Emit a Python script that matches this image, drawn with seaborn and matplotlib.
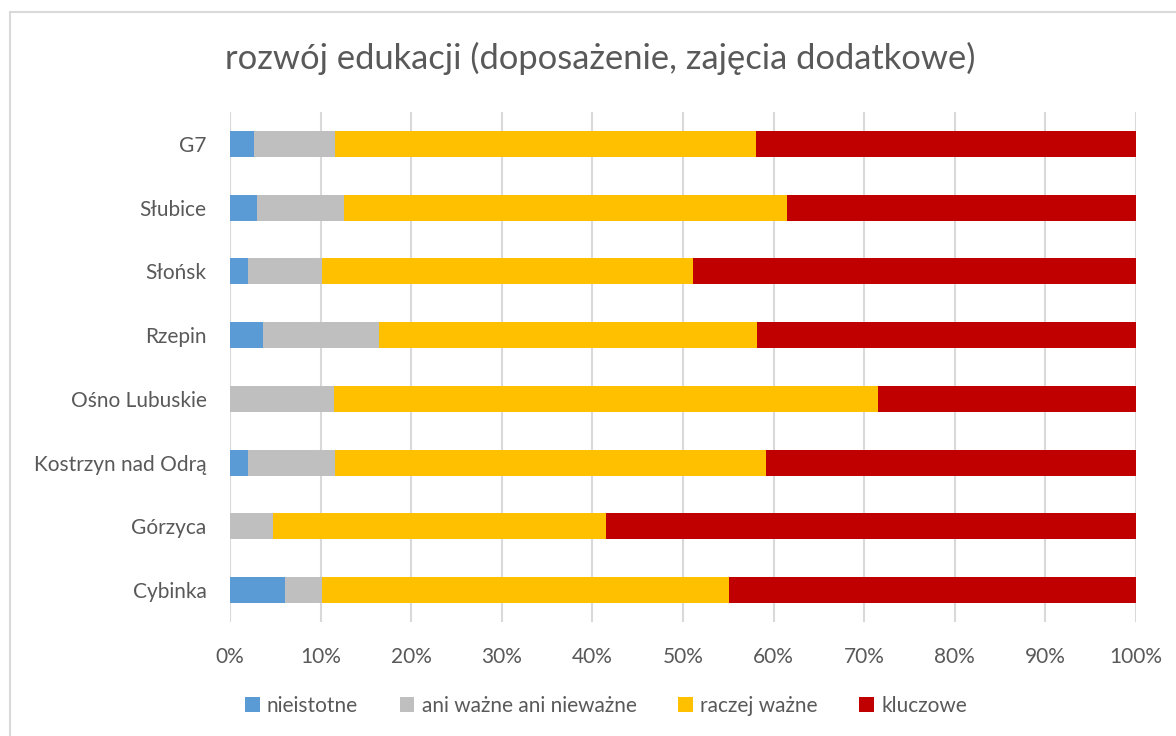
import matplotlib
matplotlib.use("Agg")
import matplotlib.pyplot as plt
from matplotlib.lines import Line2D
from matplotlib.patches import Patch
from matplotlib.ticker import PercentFormatter
import numpy as np
import pandas as pd
import seaborn as sns

# Survey shares (%) per municipality, listed top to bottom
categories = ["G7", "Słubice", "Słońsk", "Rzepin", "Ośno Lubuskie",
              "Kostrzyn nad Odrą", "Górzyca", "Cybinka"]
nieistotne = [2.6, 3.0, 2.0, 3.6, 0.0, 2.0, 0.0, 6.1]
ani_wazne = [9.0, 9.6, 8.2, 12.8, 11.5, 9.6, 4.8, 4.1]
raczej_wazne = [46.5, 48.9, 40.9, 41.8, 60.0, 47.6, 36.7, 44.9]
kluczowe = [41.9, 38.5, 48.9, 41.8, 28.5, 40.8, 58.5, 44.9]

series_names = ["nieistotne", "ani ważne ani nieważne", "raczej ważne", "kluczowe"]
series_values = [nieistotne, ani_wazne, raczej_wazne, kluczowe]
colors = ["#5B9BD5", "#BFBFBF", "#FFC000", "#C00000"]

title = "rozwój edukacji (doposażenie, zajęcia dodatkowe)"
xticks = list(range(0, 101, 10))

sns.set_theme(style="white")
plt.rcParams["font.family"] = ["Lato", "DejaVu Sans"]

text_color = "#595959"
grid_color = "#D9D9D9"

fig = plt.figure(figsize=(11.76, 7.36), dpi=100)
ax = fig.add_axes([230 / 1176, 1 - 622 / 736, 906 / 1176, 510 / 736])

# Stack the segments by drawing cumulative totals from the widest one down
df = pd.DataFrame({name: vals for name, vals in zip(series_names, series_values)},
                  index=categories)
cum = df.cumsum(axis=1)
for name, color in reversed(list(zip(series_names, colors))):
    sns.barplot(x=cum[name].values, y=categories, order=categories,
                orient="h", color=color, width=0.41, ax=ax,
                saturation=1, edgecolor="none", linewidth=0, zorder=3)

ax.set_xlim(0, 100)
ax.set_ylim(len(categories) - 0.5, -0.5)
ax.set_xticks(xticks)
ax.xaxis.set_major_formatter(PercentFormatter(decimals=0))
ax.grid(axis="x", color=grid_color, linewidth=1.5, zorder=0)
ax.grid(axis="y", visible=False)
for s in ax.spines.values():
    s.set_visible(False)
ax.tick_params(axis="x", length=0, pad=18, labelsize=15, labelcolor=text_color)
ax.tick_params(axis="y", length=0, pad=17, labelsize=15, labelcolor=text_color)
ax.set_xlabel("")
ax.set_ylabel("")

fig.text(600 / 1176, 1 - 58 / 736, title, ha="center", va="center",
         fontsize=24.8, color=text_color)

handles = [Patch(facecolor=c, edgecolor="none") for c in colors]
fig.legend(handles, series_names, loc="center", bbox_to_anchor=(606 / 1176, 1 - 706 / 736),
           ncol=4, frameon=False, fontsize=15, labelcolor=text_color,
           handlelength=0.7, handleheight=0.7, handletextpad=0.35,
           columnspacing=2.0)

# Chart frame (left and top edges)
fig.add_artist(Line2D([10 / 1176, 10 / 1176], [0, 1 - 12 / 736],
                      transform=fig.transFigure, color=grid_color, linewidth=1.5))
fig.add_artist(Line2D([10 / 1176, 1], [1 - 12 / 736, 1 - 12 / 736],
                      transform=fig.transFigure, color=grid_color, linewidth=1.5))

fig.savefig("out.png", dpi=100, facecolor="white")
